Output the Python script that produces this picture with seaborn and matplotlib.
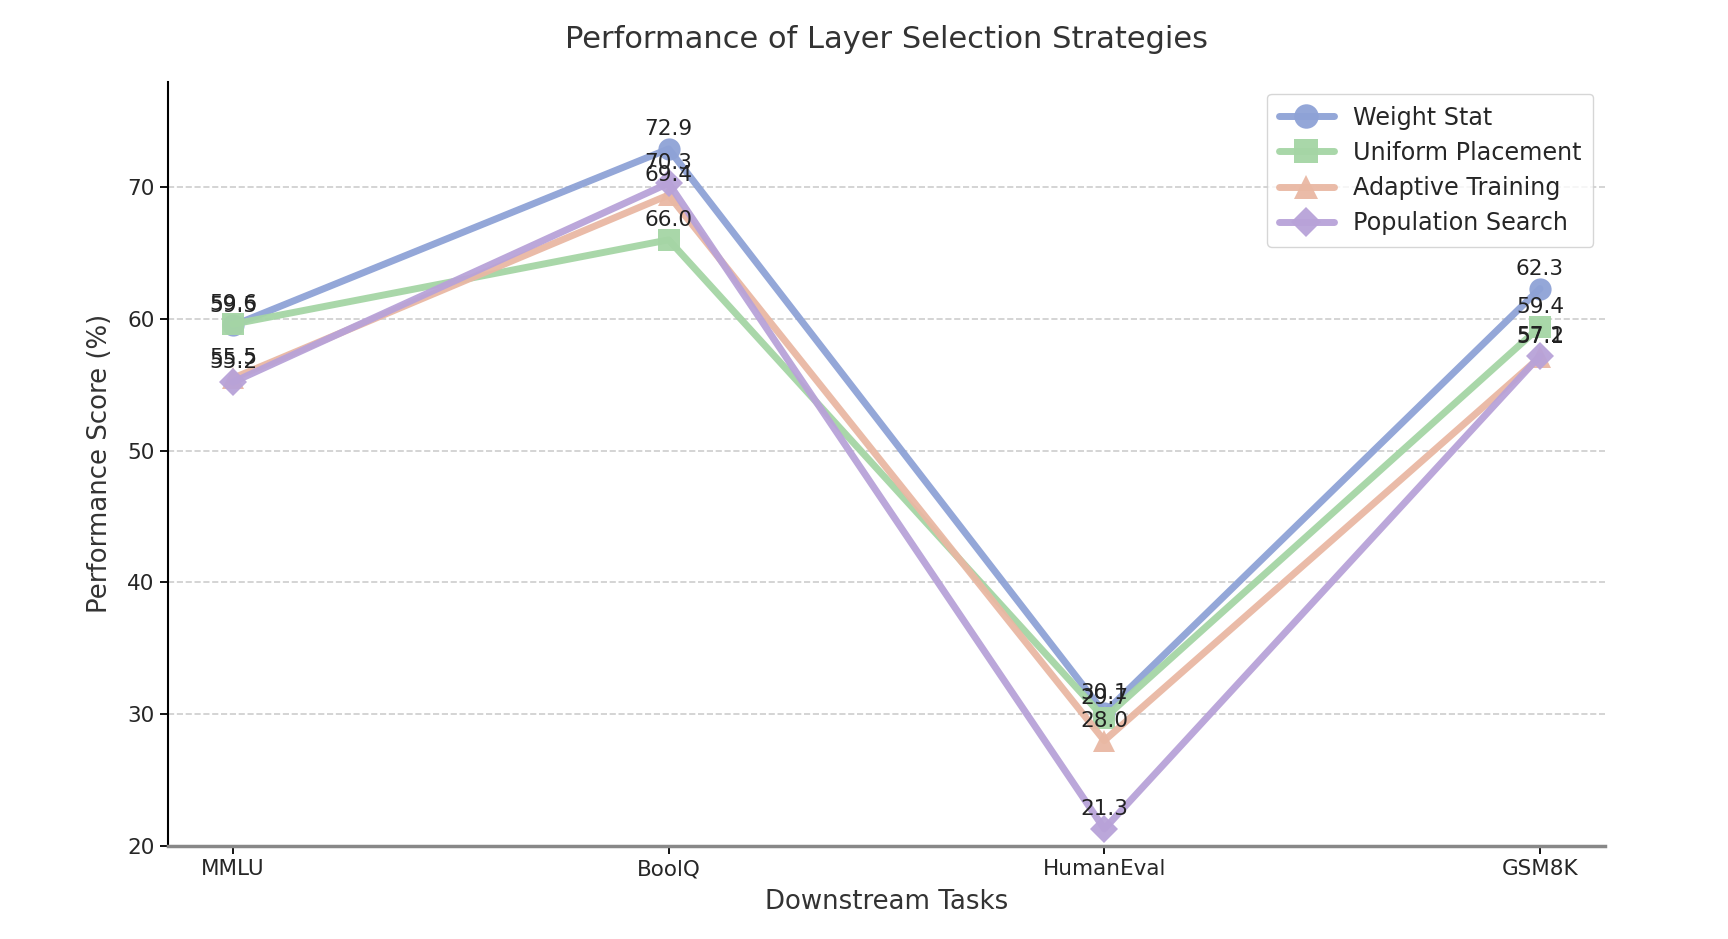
import matplotlib
matplotlib.use("Agg")
import matplotlib.pyplot as plt
import seaborn as sns
import pandas as pd

tasks = ["MMLU", "BoolQ", "HumanEval", "GSM8K"]
weight_stat = [59.5, 72.9, 30.1, 62.3]
uniform_placement = [59.6, 66.0, 29.7, 59.4]
adaptive_training = [55.5, 69.4, 28.0, 57.1]
population_search = [55.2, 70.3, 21.3, 57.2]
series_names = ["Weight Stat", "Uniform Placement", "Adaptive Training", "Population Search"]
series_values = [weight_stat, uniform_placement, adaptive_training, population_search]
markers = ["o", "s", "^", "D"]
colors = ["#8ea2d6", "#a5d5a5", "#e9b8a3", "#b8a2d8"]

sns.set_style("white")
plt.rcParams['font.family'] = ['DejaVu Sans']

rows = []
for name, vals in zip(series_names, series_values):
    for t, v in zip(tasks, vals):
        rows.append({"Task": t, "Score": v, "Strategy": name})
df = pd.DataFrame(rows)

fig = plt.figure(figsize=(17.28, 9.39), dpi=100)
ax = fig.add_axes([0.097, 0.099, 0.832, 0.814])

for i, name in enumerate(series_names):
    sub = df[df["Strategy"] == name]
    sns.lineplot(data=sub, x="Task", y="Score", ax=ax, color=colors[i], marker=markers[i],
                 markersize=16 if markers[i] != "D" else 14, linewidth=5, alpha=0.95,
                 markeredgewidth=0, label=name, sort=False)
    for t, v in zip(sub["Task"], sub["Score"]):
        ax.annotate(f"{v:.1f}", (tasks.index(t), v), textcoords="offset points", xytext=(0, 7),
                    ha="center", va="bottom", fontsize=15.5, color="#222222")

ax.set_xlim(-0.15, 3.15)
ax.set_ylim(20, 78)
ax.set_yticks([20, 30, 40, 50, 60, 70])
ax.grid(axis="y", linestyle="--", color="#c8c8c8", alpha=0.9, linewidth=1.2)
ax.set_axisbelow(True)
for s in ["top", "right"]:
    ax.spines[s].set_visible(False)
ax.spines["left"].set_color("black")
ax.spines["left"].set_linewidth(1.5)
ax.spines["bottom"].set_color("#888888")
ax.spines["bottom"].set_linewidth(2.5)
ax.tick_params(axis="both", labelsize=15.5, length=6, width=1.3, color="black", bottom=True, left=True)

ax.set_title("Performance of Layer Selection Strategies", fontsize=22, color="#333333", pad=24)
ax.set_xlabel("Downstream Tasks", fontsize=18.7, color="#333333", labelpad=7)
ax.set_ylabel("Performance Score (%)", fontsize=18.7, color="#333333", labelpad=10)

leg = ax.legend(loc="upper right", fontsize=17.2, frameon=True, markerscale=1.1,
                handlelength=2.3, borderpad=0.5, labelspacing=0.47)
leg.get_frame().set_edgecolor("#cccccc")

fig.savefig("out.png", dpi=100)
